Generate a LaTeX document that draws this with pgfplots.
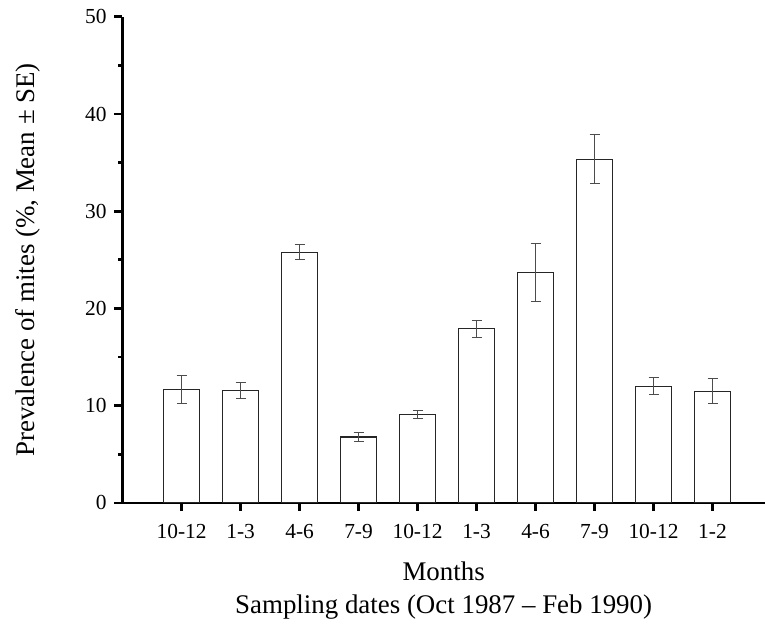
\documentclass[border=0pt]{standalone}
\usepackage{fontspec}
\setmainfont{Liberation Serif}
\usepackage{pgfplots}
\pgfplotsset{compat=1.18}
\usepackage{pgfplotstable}
\pgfplotstableread{
x y err
0 11.70 1.45
1 11.55 0.80
2 25.80 0.78
3 6.78 0.50
4 9.10 0.43
5 17.90 0.90
6 23.70 3.00
7 35.35 2.50
8 12.00 0.90
9 11.50 1.30
}\datatable
\begin{document}
\begin{tikzpicture}
\begin{axis}[
  name=ax,
  scale only axis,
  width=642.7bp, height=486.1bp,
  xmin=-1.005, xmax=9.89,
  ymin=0, ymax=50,
  axis x line=bottom, axis y line=left,
  axis line style={-, line width=2.7bp, black},
  xtick={0,1,2,3,4,5,6,7,8,9},
  xticklabels={10-12,1-3,4-6,7-9,10-12,1-3,4-6,7-9,10-12,1-2},
  ytick={0,10,20,30,40,50},
  minor y tick num=1,
  tick align=outside,
  major tick length=8bp,
  minor tick length=4bp,
  every tick/.style={line width=2.7bp, black},
  /pgf/number format/assume math mode=true,
  tick label style={font=\fontsize{21.5}{25}\selectfont},
  yticklabel style={inner sep=0pt, anchor=east, xshift=-7.6bp},
  xticklabel style={inner sep=0pt, anchor=north, yshift=-13.5bp},
  xlabel={Months\\Sampling dates (Oct 1987 -- Feb 1990)},
  xlabel style={font=\fontsize{27}{33}\selectfont, align=center, inner sep=0pt,
    at={(axis description cs:0.5,0)}, anchor=north, yshift=-59bp},
  ylabel={Prevalence of mites (\%, Mean ± SE)},
  ylabel style={font=\fontsize{27}{33}\selectfont, inner sep=0pt,
    at={(axis description cs:-0.1369,0.5)}, anchor=base},
  clip=false,
]
\addplot[ybar, bar width=36bp, fill=white, draw=black!85, line width=1.1bp,
  error bars/.cd, y dir=both, y explicit,
  error bar style={line width=1bp, draw=black!70},
  error mark options={rotate=90, mark size=5bp, line width=1bp, draw=black!70}]
  table[x=x, y=y, y error=err]{\datatable};
\end{axis}
\pgfresetboundingbox
\path[use as bounding box] ([xshift=-122.3bp,yshift=-124.1bp]ax.south west) rectangle ([yshift=16.8bp]ax.north east);
\end{tikzpicture}
\end{document}
